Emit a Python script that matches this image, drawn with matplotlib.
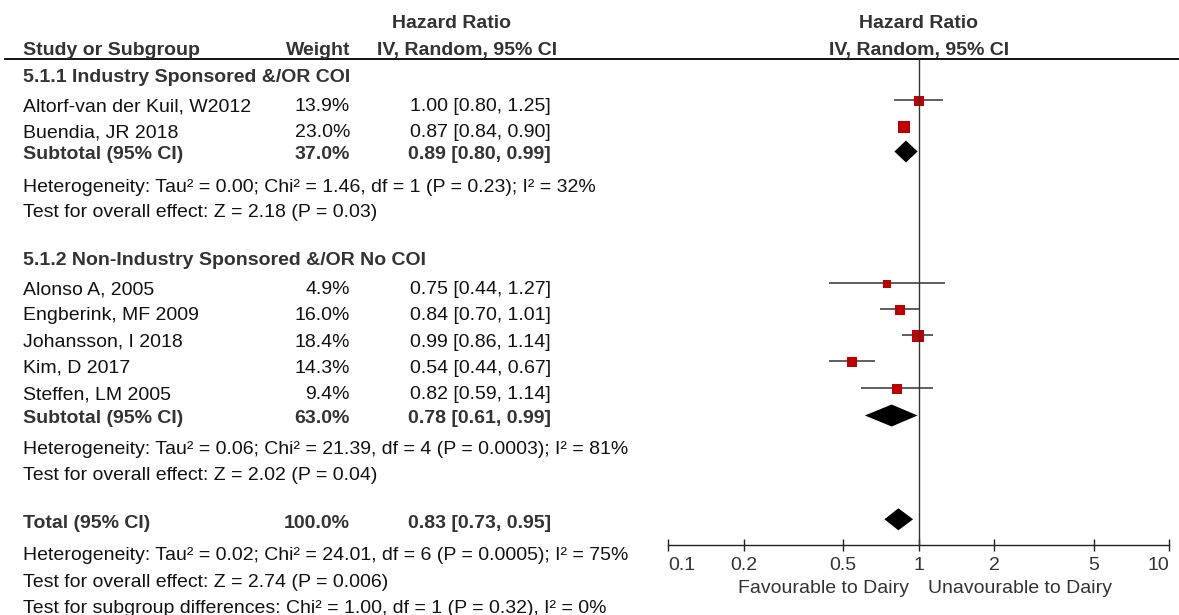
import matplotlib
matplotlib.use("Agg")
import matplotlib.pyplot as plt
from matplotlib.ticker import NullLocator
import numpy as np

plt.rcParams.update({"font.family": ["Liberation Sans", "DejaVu Sans"], "font.size": 14})

# ---- data ----
STUDY = ["Altorf-van der Kuil, W2012", "Buendia, JR 2018", "Alonso A, 2005",
         "Engberink, MF 2009", "Johansson, I 2018", "Kim, D 2017", "Steffen, LM 2005"]
GROUP = [0, 0, 1, 1, 1, 1, 1]
WEIGHT = [13.9, 23.0, 4.9, 16.0, 18.4, 14.3, 9.4]
HR = [1.00, 0.87, 0.75, 0.84, 0.99, 0.54, 0.82]
LO = [0.80, 0.84, 0.44, 0.70, 0.86, 0.44, 0.59]
HI = [1.25, 0.90, 1.27, 1.01, 1.14, 0.67, 1.14]

GROUPS = ["5.1.1 Industry Sponsored &/OR COI", "5.1.2 Non-Industry Sponsored &/OR No COI"]
SUB_W = [37.0, 63.0]
SUB_HR = [0.89, 0.78]
SUB_LO = [0.80, 0.61]
SUB_HI = [0.99, 0.99]
SUB_HET = ["Heterogeneity: Tau\u00b2 = 0.00; Chi\u00b2 = 1.46, df = 1 (P = 0.23); I\u00b2 = 32%",
           "Heterogeneity: Tau\u00b2 = 0.06; Chi\u00b2 = 21.39, df = 4 (P = 0.0003); I\u00b2 = 81%"]
SUB_TEST = ["Test for overall effect: Z = 2.18 (P = 0.03)",
            "Test for overall effect: Z = 2.02 (P = 0.04)"]

TOT_W, TOT_HR, TOT_LO, TOT_HI = 100.0, 0.83, 0.73, 0.95
TOT_NOTES = ["Heterogeneity: Tau\u00b2 = 0.02; Chi\u00b2 = 24.01, df = 6 (P = 0.0005); I\u00b2 = 75%",
             "Test for overall effect: Z = 2.74 (P = 0.006)",
             "Test for subgroup differences: Chi\u00b2 = 1.00, df = 1 (P = 0.32), I\u00b2 = 0%"]

TICKS = [0.1, 0.2, 0.5, 1, 2, 5, 10]
TICKLAB = ["0.1", "0.2", "0.5", "1", "2", "5", "10"]

# ---- layout (pixels, y measured from top) ----
W, H = 1179, 615
X_NAME, X_WT, X_HR = 23, 350, 551
FP_L, FP_R = 668.3, 1169.0
AX_Y, HDR_Y = 545, 59.3
Y_GROUP = [82, 265]
Y_STUDY = [111, 137, 294.3, 320, 346.7, 372.7, 399]
Y_SUB = [159, 423]
Y_HET = [191.5, 453.5]
Y_TEST = [217, 480]
Y_TOT = 528.3
Y_TOT_NOTES = [560, 586.7, 613]
INK, BOLD, RED = "#111111", "#333333", "#C00000"

fig = plt.figure(figsize=(W / 100, H / 100), dpi=100)
tab = fig.add_axes([0, 0, 1, 1])
tab.set_xlim(0, W); tab.set_ylim(H, 0); tab.axis("off")

ax = fig.add_axes([FP_L / W, 1 - AX_Y / H, (FP_R - FP_L) / W, (AX_Y - HDR_Y) / H])
ax.set_facecolor("none")
ax.set_xscale("log"); ax.set_xlim(0.1, 10); ax.set_ylim(AX_Y, HDR_Y)


def txt(y, name, w=None, est=None, bold=False):
    kw = dict(fontweight="bold", color=BOLD) if bold else dict(color=INK)
    tab.text(X_NAME, y, name, ha="left", va="baseline", **kw)
    if w is not None:
        tab.text(X_WT, y, f"{w:.1f}%", ha="right", va="baseline", **kw)
    if est is not None:
        h, l, u = est
        tab.text(X_HR, y, f"{h:.2f} [{l:.2f}, {u:.2f}]", ha="right", va="baseline", **kw)


def diamond(y, h, l, u):
    ax.fill([l, h, u, h], [y, y - 11, y, y + 11], color="black", lw=0)


# headers
tab.text(451.5, 28, "Hazard Ratio", ha="center", va="baseline", fontweight="bold", color=BOLD)
tab.text(X_NAME, 55, "Study or Subgroup", ha="left", va="baseline", fontweight="bold", color=BOLD)
tab.text(X_WT, 55, "Weight", ha="right", va="baseline", fontweight="bold", color=BOLD)
tab.text(466.7, 55, "IV, Random, 95% CI", ha="center", va="baseline", fontweight="bold", color=BOLD)
ax.text(1, 28, "Hazard Ratio", ha="center", va="baseline", fontweight="bold", color=BOLD)
ax.text(1, 55, "IV, Random, 95% CI", ha="center", va="baseline", fontweight="bold", color=BOLD)
tab.plot([5, W], [HDR_Y, HDR_Y], color="black", lw=1.3)

# groups
for g in range(2):
    txt(Y_GROUP[g], GROUPS[g], bold=True)
    txt(Y_SUB[g], "Subtotal (95% CI)", SUB_W[g], (SUB_HR[g], SUB_LO[g], SUB_HI[g]), bold=True)
    txt(Y_HET[g], SUB_HET[g])
    txt(Y_TEST[g], SUB_TEST[g])
    diamond(Y_SUB[g] - 7.5, SUB_HR[g], SUB_LO[g], SUB_HI[g])

# studies
for i, name in enumerate(STUDY):
    y = Y_STUDY[i]
    txt(y, name, WEIGHT[i], (HR[i], LO[i], HI[i]))
    ax.plot([LO[i], HI[i]], [y - 11.5, y - 11.5], color="#333333", lw=1.1, solid_capstyle="butt")
    side = 4.2 + 1.6 * np.sqrt(WEIGHT[i])   # box size grows with weight
    ax.plot([HR[i]], [y - 10.5], marker="s", ms=side * 0.72, color=RED, mew=0, ls="none")

# total
txt(Y_TOT, "Total (95% CI)", TOT_W, (TOT_HR, TOT_LO, TOT_HI), bold=True)
diamond(Y_TOT - 9, TOT_HR, TOT_LO, TOT_HI)
for y, s in zip(Y_TOT_NOTES, TOT_NOTES):
    txt(y, s)

# forest axis
ax.axvline(1, color="#333333", lw=1.0)
for s in ["top", "left", "right"]:
    ax.spines[s].set_visible(False)
ax.spines["bottom"].set_linewidth(1.0)
ax.spines["bottom"].set_color("#222222")
ax.set_yticks([])
ax.set_xticks(TICKS, TICKLAB)
ax.xaxis.set_minor_locator(NullLocator())
ax.tick_params(axis="x", direction="inout", length=9, width=1.0, color="#222222",
               labelcolor="#333333", labelsize=14, pad=4)
labs = ax.get_xticklabels()
labs[0].set_ha("left"); labs[-1].set_ha("right")
ax.annotate("Favourable to Dairy", xy=(1, 593), xytext=(-7, 0), textcoords="offset points",
            ha="right", va="baseline", color="#333333", annotation_clip=False)
ax.annotate("Unavourable to Dairy", xy=(1, 593), xytext=(7, 0), textcoords="offset points",
            ha="left", va="baseline", color="#333333", annotation_clip=False)

fig.savefig("out.png", dpi=100)
